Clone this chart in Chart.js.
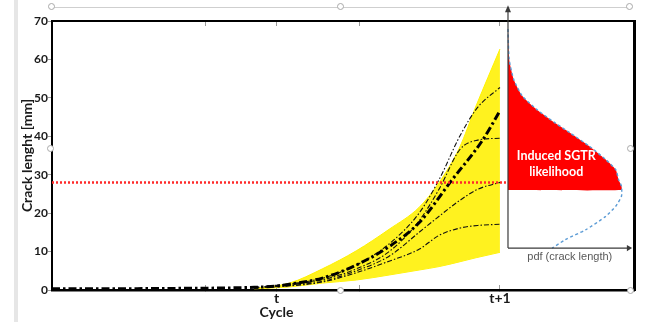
<!DOCTYPE html>
<html>
<head>
<meta charset="utf-8">
<script src="https://cdn.jsdelivr.net/npm/chart.js@4"></script>
<style>
  body { margin: 0; background: #fff; }
  #wrap { position: relative; width: 652px; height: 322px; overflow: hidden; }
  #chart { position: absolute; left: 0; top: 0; }
  .bar { position: absolute; left: 14px; top: 0; width: 4px; height: 322px; background: #e6e6e6; }
  .sel { position: absolute; left: 52px; top: 7px; width: 578px; height: 1px; background: #cfcfcf; }
  .h { position: absolute; width: 5px; height: 5px; border: 1px solid #a8a8a8; border-radius: 50%; background: #fff; }
</style>
</head>
<body>
<div id="wrap">
  <div class="bar"></div>
  <div class="sel"></div>
  <canvas id="chart" width="652" height="322"></canvas>
  <div class="h" style="left:48px;top:3px"></div>
  <div class="h" style="left:337px;top:3px"></div>
  <div class="h" style="left:626px;top:3px"></div>
  <div class="h" style="left:47px;top:145px"></div>
  <div class="h" style="left:627px;top:145px"></div>
  <div class="h" style="left:337px;top:287px"></div>
  <div class="h" style="left:627px;top:287px"></div>
</div>
<script>
// x axis: t = 1, t+1 = 2 (cycle)
const xTickValues = [0.683, 1, 1.37, 2];
const xTickLabels = ['', ['t', 'Cycle'], '', 't+1'];

// mean crack growth (thick dash-dot)
const meanX = [-0.005, 0.5, 0.9, 1.0, 1.058, 1.205, 1.357, 1.504, 1.638, 1.786, 1.92, 2.0];
const meanY = [0.3, 0.4, 0.7, 1.0, 1.5, 3.1, 6.5, 11.3, 17.5, 28.7, 38.8, 46.6];

// sample trajectories (thin dash-dot)
const runX = [0.9, 1.2, 1.357, 1.504, 1.638, 1.73, 1.82, 1.90, 2.0];
const runA = [0.6, 3.0, 6.5, 12.0, 20.0, 29.0, 40.0, 47.5, 52.7];
const runB = [0.6, 2.6, 5.5, 10.0, 18.0, 26.5, 36.5, 39.0, 39.5];
const runC = [0.5, 2.2, 5.0, 8.8, 15.0, 19.3, 23.3, 26.2, 28.0];
const runD = [0.5, 2.0, 4.5, 7.5, 10.6, 14.3, 16.1, 16.8, 17.1];

// yellow envelope of all trajectories
const bandX = [0.9, 1.058, 1.205, 1.357, 1.504, 1.638, 1.728, 1.817, 1.893, 2.0];
const bandUpper = [0.4, 1.8, 5.5, 10.2, 15.8, 21.5, 28.0, 36.8, 47.9, 62.7];
const bandLower = [0.3, 0.8, 1.8, 2.6, 3.9, 5.2, 6.1, 7.3, 8.4, 9.8];

// SGTR threshold
const threshold = 28;

// pdf of crack length at t+1
const pdfCrack = [67.9, 60.1, 54.8, 50.5, 47.0, 43.5, 40.9, 37.4, 34.0, 31.3, 28.7, 27.0, 24.4, 21.8, 19.1, 15.7, 13.1, 10.9];
const pdfDensity = [0.0, 0.01, 0.05, 0.125, 0.25, 0.41, 0.54, 0.71, 0.85, 0.94, 0.965, 0.99, 0.99, 0.94, 0.85, 0.68, 0.50, 0.385];
const redCut = 26;
const pdfNote = ['Induced SGTR', 'likelihood'];
const pdfAxisTitle = 'pdf (crack length)';

// where the pdf inset sits on the x scale
const pdfOrigin = 2.036, pdfWidth = 0.513;
const pdfAxisBase = 10.9, pdfAxisTop = 73.3, pdfAxisEnd = 2.576;

const pts = (xs, ys) => xs.map((x, i) => ({ x: x, y: ys[i] }));
const pdfPts = pdfCrack.map((c, i) => ({ x: pdfOrigin + pdfDensity[i] * pdfWidth, y: c }));

// red area: part of the pdf above the cut, closed against the pdf axis
function redShape() {
  let k = pdfCrack.findIndex(c => c < redCut);
  const f = (redCut - pdfCrack[k]) / (pdfCrack[k - 1] - pdfCrack[k]);
  const dCut = pdfDensity[k] + f * (pdfDensity[k - 1] - pdfDensity[k]);
  const out = [{ x: pdfOrigin, y: redCut }, { x: pdfOrigin + dCut * pdfWidth, y: redCut }];
  for (let i = k - 1; i >= 0; i--) out.push(pdfPts[i]);
  return out;
}

const thin = (data) => ({
  data: data, borderColor: '#111', borderWidth: 1.1, borderDash: [5, 2, 1.5, 2],
  pointRadius: 0, tension: 0.35, cubicInterpolationMode: 'monotone', order: 2
});

const notes = {
  id: 'notes',
  afterDatasetsDraw(chart) {
    const { ctx, scales: { x, y } } = chart;
    ctx.save();
    // arrow head of the pdf axis, above the plot frame
    const ax = x.getPixelForValue(pdfOrigin), ay = y.getPixelForValue(pdfAxisTop);
    ctx.fillStyle = '#3a3a3a';
    ctx.beginPath();
    ctx.moveTo(ax, ay - 3);
    ctx.lineTo(ax - 3, ay + 4);
    ctx.lineTo(ax + 3, ay + 4);
    ctx.closePath();
    ctx.fill();

    ctx.textAlign = 'center';
    ctx.textBaseline = 'middle';
    ctx.fillStyle = '#fff';
    ctx.font = 'bold 12.5px Lato';
    ctx.fillText(pdfNote[0], x.getPixelForValue(2.252), y.getPixelForValue(34.9));
    ctx.fillText(pdfNote[1], x.getPixelForValue(2.252), y.getPixelForValue(30.6));
    ctx.fillStyle = '#595959';
    ctx.font = '11px "Liberation Sans"';
    ctx.fillText(pdfAxisTitle, x.getPixelForValue(2.3125), y.getPixelForValue(8.5));
    ctx.restore();
  }
};

const setTicks = s => { s.ticks = xTickValues.map(v => ({ value: v })); };

new Chart(document.getElementById('chart'), {
  type: 'line',
  data: {
    datasets: [
      { data: pts([-0.005, pdfOrigin], [threshold, threshold]), borderColor: '#ff2a2a', borderWidth: 2.5,
        borderDash: [2, 2], pointRadius: 0, order: 0 },
      { data: pts(meanX, meanY), borderColor: '#000', borderWidth: 3, borderDash: [8, 3, 2.5, 3],
        pointRadius: 0, tension: 0.35, cubicInterpolationMode: 'monotone', order: 1 },
      thin(pts(runX, runA)),
      thin(pts(runX, runB)),
      thin(pts(runX, runC)),
      thin(pts(runX, runD)),
      { data: pts(bandX, bandUpper), borderColor: '#fff200', borderWidth: 1, backgroundColor: '#fff21f',
        fill: '+1', pointRadius: 0, tension: 0.3, cubicInterpolationMode: 'monotone', order: 10 },
      { data: pts(bandX, bandLower), borderColor: '#fff200', borderWidth: 1, fill: false,
        pointRadius: 0, tension: 0.3, cubicInterpolationMode: 'monotone', order: 11 },
      { data: [{ x: pdfOrigin, y: pdfAxisBase }, { x: pdfOrigin, y: pdfAxisTop }], borderColor: '#3a3a3a',
        borderWidth: 1.2, pointRadius: 0, clip: false, order: 4 },
      { data: [{ x: pdfOrigin, y: pdfAxisBase }, { x: pdfAxisEnd, y: pdfAxisBase }], borderColor: '#3a3a3a',
        borderWidth: 1.2, pointRadius: [0, 3.5], pointStyle: 'triangle', pointRotation: 90,
        pointBackgroundColor: '#3a3a3a', pointBorderWidth: 0, clip: false, order: 4 },
      { data: redShape(), borderWidth: 0, backgroundColor: '#ff0000', fill: 'shape',
        pointRadius: 0, tension: 0.2, order: 6 },
      { data: pdfPts, borderColor: '#5b9bd5', borderWidth: 1.4, borderDash: [3, 2.5],
        pointRadius: 0, tension: 0.2, order: 5 }
    ]
  },
  options: {
    responsive: false,
    animation: false,
    devicePixelRatio: 1,
    layout: { padding: { top: 21, right: 18, left: 0, bottom: 0 } },
    plugins: { legend: { display: false }, tooltip: { enabled: false } },
    scales: {
      x: {
        type: 'linear', position: 'bottom', min: -0.005, max: 2.6,
        afterBuildTicks: setTicks,
        afterFit: s => { s.height = 32; },
        border: { color: '#000', width: 2.5 },
        grid: { drawOnChartArea: false, tickLength: -5, color: '#9a9a9a' },
        ticks: {
          autoSkip: false, maxRotation: 0, padding: 6, color: '#1a1a1a',
          font: { family: 'Lato', weight: 'bold', size: 14, lineHeight: 1.0 },
          callback: (v, i) => xTickLabels[i]
        }
      },
      xTop: {
        type: 'linear', position: 'top', min: -0.005, max: 2.6,
        afterBuildTicks: setTicks,
        afterFit: s => { s.height = 0; },
        border: { color: '#000', width: 2 },
        grid: { drawOnChartArea: false, tickLength: -5, color: '#9a9a9a' },
        ticks: { display: false }
      },
      y: {
        min: 0, max: 70,
        afterFit: s => { s.width = 52; },
        border: { color: '#000', width: 2 },
        grid: { drawOnChartArea: false, tickLength: 4, color: '#9a9a9a' },
        ticks: { stepSize: 10, padding: 0, color: '#1a1a1a', font: { family: 'Lato', weight: 'bold', size: 12 } },
        title: {
          display: true, text: 'Crack lenght [mm]', color: '#1a1a1a',
          font: { family: 'Lato', weight: 'bold', size: 14 }, padding: { top: 19, bottom: 0 }
        }
      },
      yRight: {
        position: 'right', min: 0, max: 70,
        afterFit: s => { s.width = 0; },
        border: { color: '#000', width: 3 },
        grid: { drawOnChartArea: false, drawTicks: false },
        ticks: { display: false }
      }
    }
  },
  plugins: [notes]
});
</script>
</body>
</html>
